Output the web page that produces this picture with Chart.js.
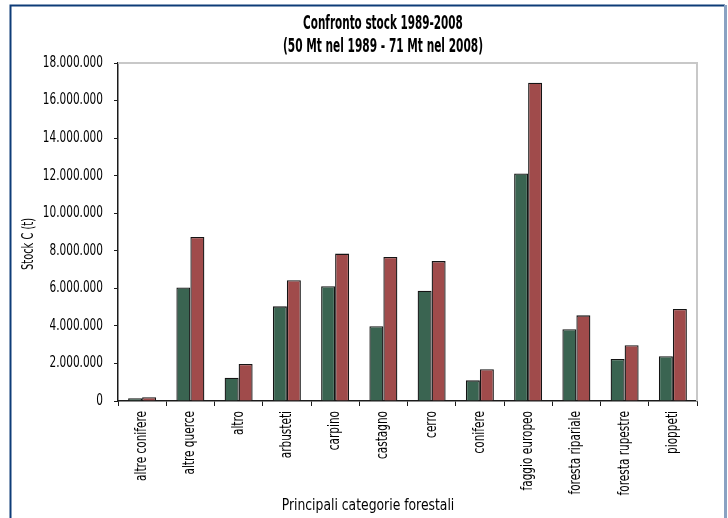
<!DOCTYPE html>
<html>
<head>
<meta charset="utf-8">
<style>
  html, body { margin: 0; padding: 0; background: #ffffff; }
  #wrap { width: 728px; height: 518px; position: relative; }
</style>
<script src="https://cdn.jsdelivr.net/npm/chart.js@4/dist/chart.umd.min.js"></script>
</head>
<body>
<div id="wrap"><canvas id="chart" width="728" height="518"></canvas></div>
<script>
// Forest categories and carbon stock (t) for the two inventory years
const categories = [
  'altre conifere', 'altre querce', 'altro', 'arbusteti', 'carpino', 'castagno',
  'cerro', 'conifere', 'faggio europeo', 'foresta ripariale', 'foresta rupestre', 'pioppeti'
];
const stock1989 = [140000, 6050000, 1240000, 5040000, 6110000, 3980000, 5870000, 1100000, 12120000, 3820000, 2240000, 2380000];
const stock2008 = [200000, 8730000, 1970000, 6430000, 7850000, 7670000, 7450000, 1690000, 16950000, 4560000, 2970000, 4900000];
const seriesNames = ['1989', '2008'];
const yTicks = { min: 0, max: 18000000, step: 2000000 };

const titleLines = ['Confronto stock 1989-2008', '(50 Mt nel 1989 - 71 Mt nel 2008)'];
const xTitle = 'Principali categorie forestali';
const yTitle = 'Stock C (t)';

const FONT = '"DejaVu Sans Condensed", "Liberation Sans Narrow", sans-serif';
// horizontal squeeze for the narrow typeface look of the axis labels
const TICK_CONDENSE = 0.78;

function itNumber(v) {
  return String(Math.round(v)).replace(/\B(?=(\d{3})+(?!\d))/g, '.');
}

// draw a text squeezed horizontally around its anchor
function condensedText(ctx, text, x, y, sx, fill) {
  ctx.save();
  ctx.translate(x, y);
  ctx.scale(sx, 1);
  fill.call(ctx, text, 0, 0);
  ctx.restore();
}

const decorations = {
  id: 'decorations',
  beforeDraw(chart) {
    const ctx = chart.ctx;
    ctx.save();
    ctx.fillStyle = '#ffffff';
    ctx.fillRect(0, 0, chart.width, chart.height);
    ctx.restore();
    // labels drawn by the scales use a condensed rendering
    if (!ctx._plainFillText) {
      ctx._plainFillText = ctx.fillText;
    }
    const plain = ctx._plainFillText;
    ctx.fillText = function (text, x, y, maxWidth) {
      this.save();
      this.translate(x, y);
      this.scale(TICK_CONDENSE, 1);
      if (maxWidth === undefined) {
        plain.call(this, text, 0, 0);
      } else {
        plain.call(this, text, 0, 0, maxWidth / TICK_CONDENSE);
      }
      this.restore();
    };
  },
  afterDraw(chart) {
    const ctx = chart.ctx;
    const plain = ctx._plainFillText || ctx.fillText;
    ctx.fillText = plain;
    const a = chart.chartArea;
    ctx.save();
    // light border on top and right of the plot area
    ctx.strokeStyle = '#c8c8c8';
    ctx.lineWidth = 2;
    ctx.beginPath();
    ctx.moveTo(a.left, a.top);
    ctx.lineTo(a.right, a.top);
    ctx.lineTo(a.right, a.bottom);
    ctx.stroke();

    // outer frame
    ctx.strokeStyle = '#0e3c78';
    ctx.lineWidth = 2;
    ctx.beginPath();
    ctx.moveTo(10.5, chart.height);
    ctx.lineTo(10.5, 5.5);
    ctx.lineTo(725, 5.5);
    ctx.stroke();
    ctx.strokeStyle = '#8aa2c2';
    ctx.lineWidth = 3;
    ctx.beginPath();
    ctx.moveTo(725.5, 5);
    ctx.lineTo(725.5, chart.height);
    ctx.stroke();

    // titles
    ctx.fillStyle = '#000000';
    ctx.textAlign = 'center';
    ctx.textBaseline = 'middle';
    ctx.font = 'bold 19px ' + FONT;
    condensedText(ctx, titleLines[0], 383, 24, 0.61, plain);
    condensedText(ctx, titleLines[1], 383, 47, 0.62, plain);

    ctx.font = '16px ' + FONT;
    condensedText(ctx, xTitle, 368, 506, 0.86, plain);

    ctx.font = '15px ' + FONT;
    ctx.translate(29, 244);
    ctx.rotate(-Math.PI / 2);
    condensedText(ctx, yTitle, 0, 0, 0.73, plain);
    ctx.restore();
  }
};

new Chart(document.getElementById('chart'), {
  type: 'bar',
  data: {
    labels: categories,
    datasets: [
      {
        label: seriesNames[0],
        data: stock1989,
        backgroundColor: '#3a6451',
        borderColor: '#141414',
        borderWidth: 1.3
      },
      {
        label: seriesNames[1],
        data: stock2008,
        backgroundColor: '#a04b4b',
        borderColor: '#141414',
        borderWidth: 1.3
      }
    ]
  },
  options: {
    responsive: false,
    animation: false,
    layout: { padding: { top: 63, right: 31, bottom: 0, left: 0 } },
    datasets: { bar: { categoryPercentage: 0.58, barPercentage: 1.0 } },
    plugins: {
      legend: { display: false },
      title: { display: false },
      tooltip: { enabled: false }
    },
    scales: {
      x: {
        offset: true,
        afterFit(scale) { scale.height = 117; },
        grid: {
          offset: true,
          drawOnChartArea: false,
          drawTicks: true,
          tickLength: 5,
          color: '#1b1b1b',
          lineWidth: 1
        },
        border: { display: true, color: '#1b1b1b', width: 1.5 },
        ticks: {
          minRotation: 90,
          maxRotation: 90,
          autoSkip: false,
          padding: 5,
          color: '#000000',
          font: { family: FONT, size: 15 }
        }
      },
      y: {
        min: yTicks.min,
        max: yTicks.max,
        afterFit(scale) { scale.width = 118; },
        grid: {
          drawOnChartArea: false,
          drawTicks: true,
          tickLength: 4,
          color: '#1b1b1b',
          lineWidth: 1
        },
        border: { display: true, color: '#1b1b1b', width: 1.5 },
        ticks: {
          stepSize: yTicks.step,
          padding: 11,
          color: '#000000',
          font: { family: FONT, size: 15 },
          callback: (v) => itNumber(v)
        }
      }
    }
  },
  plugins: [decorations]
});
</script>
</body>
</html>
